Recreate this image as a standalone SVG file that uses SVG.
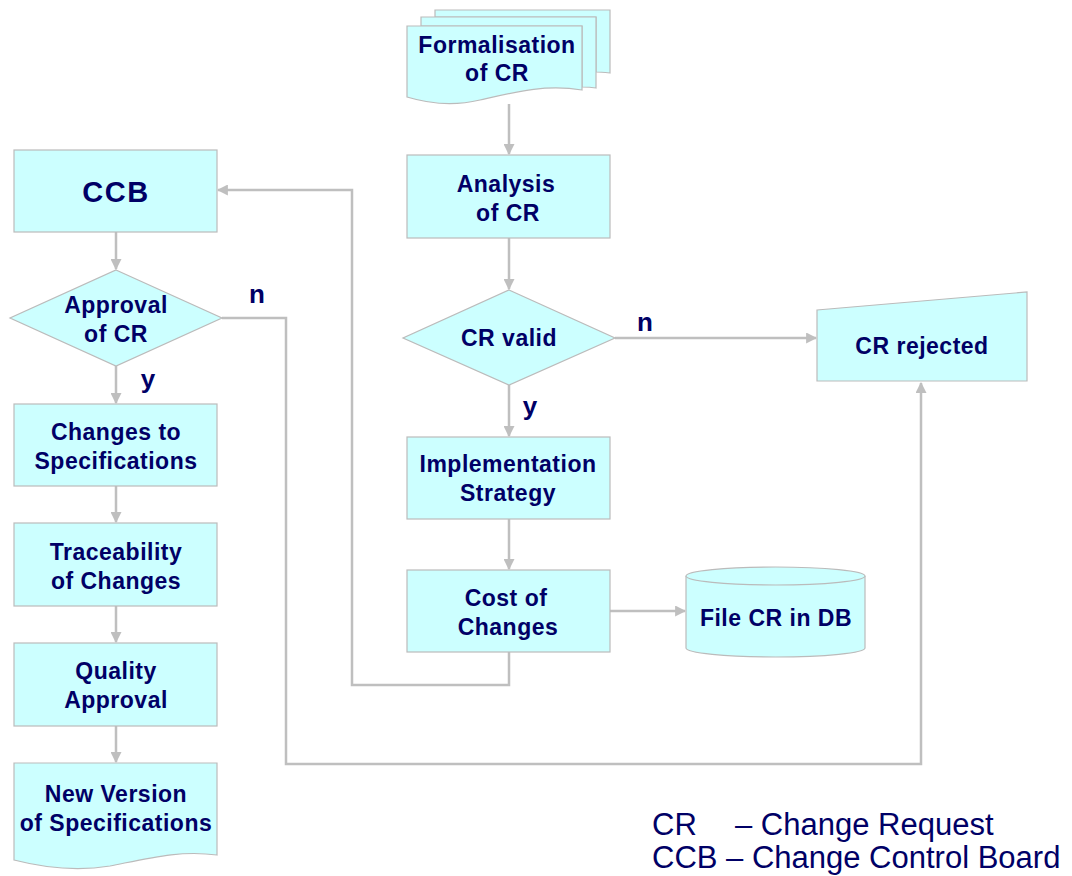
<svg xmlns="http://www.w3.org/2000/svg" width="1072" height="876" viewBox="0 0 1072 876">
<defs>
<style>
.n{fill:#CCFFFF;stroke:#BBBBBB;stroke-width:1.2}
.t{font-family:"Liberation Sans",Arial,sans-serif;font-weight:bold;font-size:23px;letter-spacing:0.5px;fill:#000066;text-anchor:middle}
.c{fill:none;stroke:#BFBFBF;stroke-width:2.5}
.l{font-family:"Liberation Sans",Arial,sans-serif;font-weight:bold;font-size:26px;fill:#000066}
.lg{font-family:"Liberation Sans",Arial,sans-serif;font-size:31px;fill:#000066}
</style>
<marker id="a" viewBox="0 0 10 10" refX="9" refY="5" markerWidth="4.4" markerHeight="4.4" orient="auto" markerUnits="strokeWidth">
<path d="M0,0 L10,5 L0,10 Z" fill="#BFBFBF"/>
</marker>
</defs>
<rect width="1072" height="876" fill="#FFFFFF"/>

<g id="connectors">
<line class="c" x1="509" y1="104" x2="509" y2="154" marker-end="url(#a)"/>
<line class="c" x1="509" y1="238" x2="509" y2="289" marker-end="url(#a)"/>
<line class="c" x1="509" y1="385" x2="509" y2="436" marker-end="url(#a)"/>
<line class="c" x1="509" y1="519" x2="509" y2="569" marker-end="url(#a)"/>
<line class="c" x1="615" y1="338" x2="816" y2="338" marker-end="url(#a)"/>
<line class="c" x1="610" y1="611" x2="685" y2="611" marker-end="url(#a)"/>
<polyline class="c" points="509,652 509,685 352,685 352,190 218,190" marker-end="url(#a)"/>
<line class="c" x1="116" y1="232" x2="116" y2="269" marker-end="url(#a)"/>
<polyline class="c" points="222,318 286,318 286,764 921,764 921,383" marker-end="url(#a)"/>
<line class="c" x1="116" y1="366" x2="116" y2="403" marker-end="url(#a)"/>
<line class="c" x1="116" y1="486" x2="116" y2="522" marker-end="url(#a)"/>
<line class="c" x1="116" y1="606" x2="116" y2="642" marker-end="url(#a)"/>
<line class="c" x1="116" y1="726" x2="116" y2="762" marker-end="url(#a)"/>
<text class="l" x="257" y="303" text-anchor="middle">n</text>
<text class="l" x="645" y="331" text-anchor="middle">n</text>
<text class="l" x="148" y="388" text-anchor="middle">y</text>
<text class="l" x="530" y="415" text-anchor="middle">y</text>
</g>

<g id="formalisation">
<path class="n" d="M435,10 H610 V73 C600,72 600,72 596,72 V17 H435 Z"/>
<path class="n" d="M421,17 H596 V88 C590,87 587,87 582,87 V26 H421 Z"/>
<path class="n" d="M407,26 H582 V90 C545,84 515,92 480,100 C455,106 430,104 407,97 Z"/>
<text class="t" x="497" y="53">Formalisation</text>
<text class="t" x="497" y="81">of CR</text>
</g>

<g id="analysis">
<rect class="n" x="407" y="155" width="203" height="83"/>
<text class="t" x="506" y="192">Analysis</text>
<text class="t" x="508" y="221">of CR</text>
</g>

<g id="crvalid">
<polygon class="n" points="509,290 615,338 509,385 403,338"/>
<text class="t" x="509" y="346">CR valid</text>
</g>

<g id="crrejected">
<polygon class="n" points="817,310 1027,292 1027,381 817,381"/>
<text class="t" x="922" y="354">CR rejected</text>
</g>

<g id="implementation">
<rect class="n" x="407" y="437" width="203" height="82"/>
<text class="t" x="508" y="472">Implementation</text>
<text class="t" x="508" y="501">Strategy</text>
</g>

<g id="cost">
<rect class="n" x="407" y="570" width="203" height="82"/>
<text class="t" x="506" y="606">Cost of</text>
<text class="t" x="508" y="635">Changes</text>
</g>

<g id="filedb">
<path class="n" d="M686,576 V648 A89.5,9 0 0 0 865,648 V576 A89.5,9 0 0 0 686,576 Z"/>
<path class="n" fill="none" d="M686,576 A89.5,9 0 0 0 865,576"/>
<text class="t" x="776" y="626">File CR in DB</text>
</g>

<g id="ccb">
<rect class="n" x="14" y="150" width="203" height="82"/>
<text class="t" x="116" y="202" style="font-size:29px;letter-spacing:1.5px">CCB</text>
</g>

<g id="approval">
<polygon class="n" points="116,270 222,318 116,366 10,318"/>
<text class="t" x="116" y="313">Approval</text>
<text class="t" x="116" y="342">of CR</text>
</g>

<g id="changes">
<rect class="n" x="14" y="404" width="203" height="82"/>
<text class="t" x="116" y="440">Changes to</text>
<text class="t" x="116" y="469">Specifications</text>
</g>

<g id="traceability">
<rect class="n" x="14" y="523" width="203" height="83"/>
<text class="t" x="116" y="560">Traceability</text>
<text class="t" x="116" y="589">of Changes</text>
</g>

<g id="quality">
<rect class="n" x="14" y="643" width="203" height="83"/>
<text class="t" x="116" y="679">Quality</text>
<text class="t" x="116" y="708">Approval</text>
</g>

<g id="newversion">
<path class="n" d="M14,763 H217 V855 C180,850 150,858 110,866 C80,871 45,868 14,860 Z"/>
<text class="t" x="116" y="802">New Version</text>
<text class="t" x="116" y="831">of Specifications</text>
</g>

<g id="legend">
<text class="lg" x="652" y="835">CR</text>
<text class="lg" x="735" y="835">– Change Request</text>
<text class="lg" x="652" y="868">CCB – Change Control Board</text>
</g>
</svg>
